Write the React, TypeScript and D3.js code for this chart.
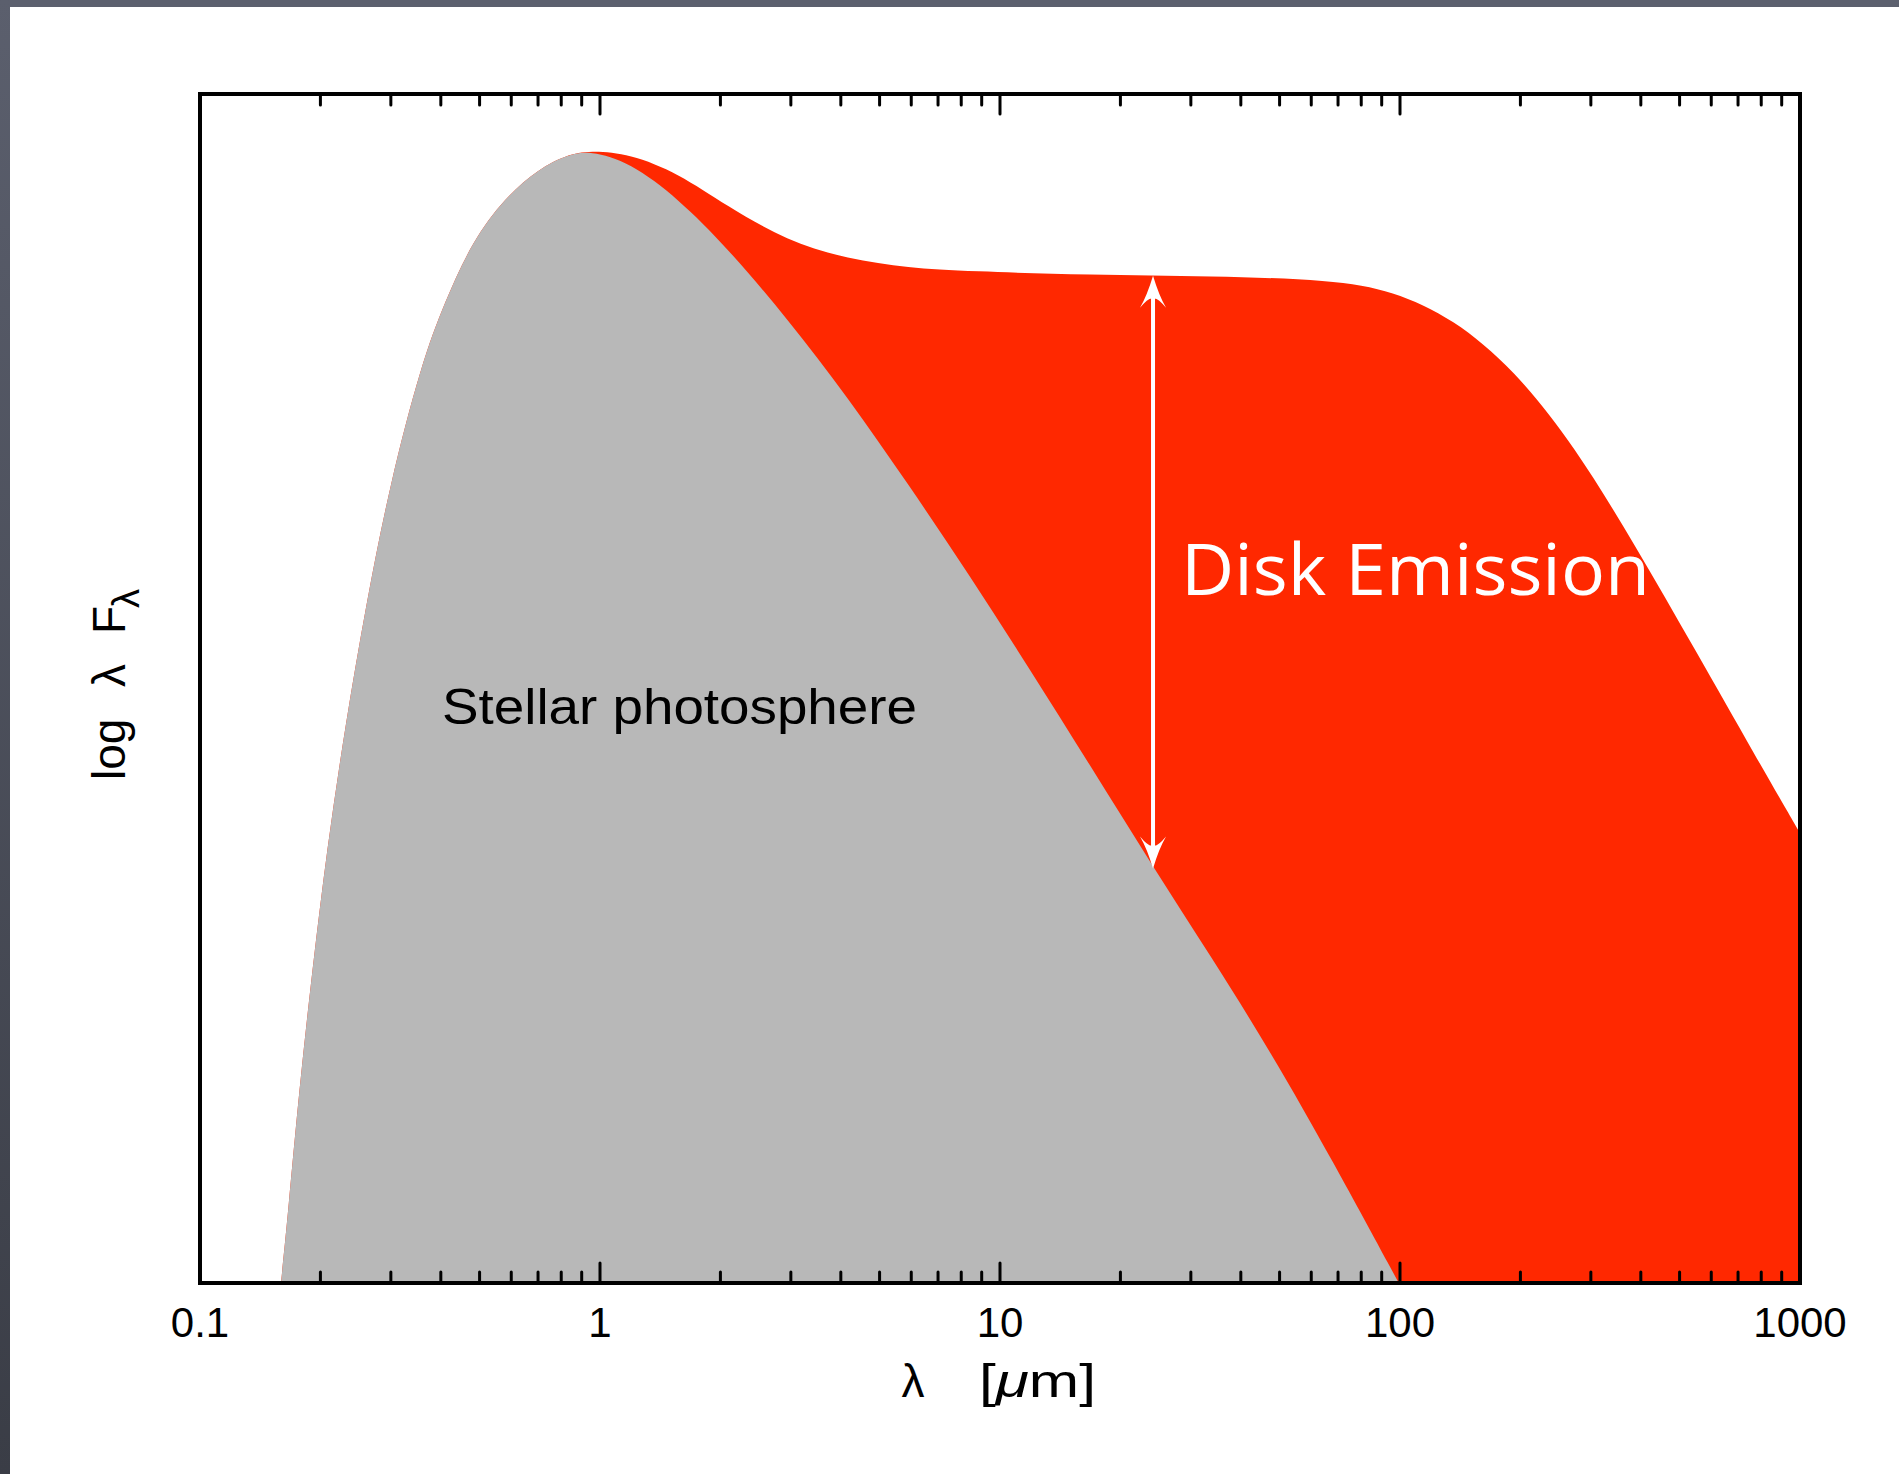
import React from 'react';
import * as d3 from 'd3';

// ---- data ----
const xTickValues = [0.1, 1, 10, 100, 1000];
const xTickLabels = ['0.1', '1', '10', '100', '1000'];

// Stellar photosphere: wavelength [micron] and log(lambda F_lambda) relative to peak
const photLambda = [0.1594, 0.1662, 0.1769, 0.1911, 0.2078, 0.2307, 0.2597, 0.2985, 0.3578, 0.4087, 0.4795, 0.5788, 0.7036, 0.826, 0.943, 1.187, 1.569, 2.073, 2.938, 4.165, 5.9, 8.36, 11.84, 16.79, 24.13, 33.7, 47.8, 67.7, 99.3];
const photLogF = [-5.0, -4.68, -4.15, -3.61, -3.08, -2.54, -2.01, -1.47, -0.94, -0.67, -0.4, -0.207, -0.08, -0.019, 0.0, -0.051, -0.212, -0.426, -0.741, -1.089, -1.474, -1.87, -2.287, -2.714, -3.163, -3.559, -3.987, -4.457, -5.0];

// Star + disk (total) emission
const totalLambda = [0.1594, 0.1662, 0.1769, 0.1911, 0.2078, 0.2307, 0.2597, 0.2985, 0.3578, 0.4087, 0.4795, 0.5788, 0.7036, 0.826, 0.943, 1.187, 1.569, 2.073, 2.938, 4.165, 5.9, 8.36, 16.79, 33.7, 67.7, 95.9, 135.9, 192.7, 272.9, 386.7, 548, 776, 1000];
const totalLogF = [-5.0, -4.68, -4.15, -3.61, -3.08, -2.54, -2.01, -1.47, -0.94, -0.67, -0.4, -0.207, -0.08, -0.019, 0.0, -0.014, -0.1, -0.244, -0.399, -0.479, -0.517, -0.533, -0.549, -0.554, -0.57, -0.618, -0.741, -0.966, -1.303, -1.741, -2.207, -2.677, -3.014];

// Disk-emission arrow
const arrowLambda = 24.13;
const arrowTopLogF = -0.553;
const arrowBottomLogF = -3.17;

const yDomain = [-5.0, 0.25];

export default function App() {
  const W = 1899, H = 1474;
  const left = 200, right = 1800, top = 94, bottom = 1283;
  const x = d3.scaleLog().domain([0.1, 1000]).range([left, right]);
  const y = d3.scaleLinear().domain(yDomain).range([bottom, top]);

  const area = d3
    .area<[number, number]>()
    .x((d) => x(d[0]))
    .y0(bottom)
    .y1((d) => y(d[1]))
    .curve(d3.curveBasis);

  const photData = photLambda.map((l, i) => [l, photLogF[i]] as [number, number]);
  const totalData = totalLambda.map((l, i) => [l, totalLogF[i]] as [number, number]);

  const majors = xTickValues;
  const minors: number[] = [];
  for (let dec = 0.1; dec < 1000; dec *= 10) {
    for (let k = 2; k <= 9; k++) minors.push(+(dec * k).toPrecision(3));
  }

  const ax = x(arrowLambda);
  const ayTop = y(arrowTopLogF);
  const ayBot = y(arrowBottomLogF);
  const headLen = 32, headHalf = 13, notch = 23;
  const topHead = `M${ax},${ayTop} Q${ax + 6},${ayTop + 20} ${ax + headHalf},${ayTop + headLen} Q${ax + 4},${ayTop + notch - 2} ${ax},${ayTop + notch} Q${ax - 4},${ayTop + notch - 2} ${ax - headHalf},${ayTop + headLen} Q${ax - 6},${ayTop + 20} ${ax},${ayTop} Z`;
  const botHead = `M${ax},${ayBot} Q${ax + 6},${ayBot - 20} ${ax + headHalf},${ayBot - headLen} Q${ax + 4},${ayBot - notch + 2} ${ax},${ayBot - notch} Q${ax - 4},${ayBot - notch + 2} ${ax - headHalf},${ayBot - headLen} Q${ax - 6},${ayBot - 20} ${ax},${ayBot} Z`;

  const sans = "'Liberation Sans', Arial, Helvetica, sans-serif";

  return (
    <svg width={W} height={H} style={{ position: 'absolute', left: 0, top: 0 }} xmlns="http://www.w3.org/2000/svg">
      <defs>
        <clipPath id="plotClip">
          <rect x={left} y={top} width={right - left} height={bottom - top} />
        </clipPath>
        <linearGradient id="leftBand" x1="0" y1="0" x2="0" y2="1">
          <stop offset="0" stopColor="#5b5f6d" />
          <stop offset="1" stopColor="#3a3d46" />
        </linearGradient>
      </defs>
      <rect x={0} y={0} width={W} height={H} fill="#ffffff" />
      <rect x={0} y={0} width={W} height={7} fill="#5c606e" />
      <rect x={0} y={0} width={10} height={H} fill="url(#leftBand)" />

      <g clipPath="url(#plotClip)">
        <path d={area(totalData) || ''} fill="#ff2800" />
        <path d={area(photData) || ''} fill="#b8b8b8" />
      </g>

      {/* arrow */}
      <line x1={ax} x2={ax} y1={ayTop + 12} y2={ayBot - 12} stroke="#ffffff" strokeWidth={4} />
      <path d={topHead} fill="#ffffff" />
      <path d={botHead} fill="#ffffff" />

      {/* ticks */}
      <g stroke="#000" strokeWidth={3} strokeLinecap="round">
        {majors.map((v) => (
          <g key={'M' + v}>
            <line x1={x(v)} x2={x(v)} y1={bottom} y2={bottom - 20} />
            <line x1={x(v)} x2={x(v)} y1={top} y2={top + 20} />
          </g>
        ))}
        {minors.map((v) => (
          <g key={'m' + v}>
            <line x1={x(v)} x2={x(v)} y1={bottom} y2={bottom - 11} />
            <line x1={x(v)} x2={x(v)} y1={top} y2={top + 11} />
          </g>
        ))}
      </g>
      <rect x={left} y={top} width={right - left} height={bottom - top} fill="none" stroke="#000" strokeWidth={4} />

      {/* tick labels */}
      {xTickValues.map((v, i) => (
        <text key={'t' + v} x={x(v)} y={1337} textAnchor="middle" fontFamily={sans} fontSize={42} fill="#000">
          {xTickLabels[i]}
        </text>
      ))}

      {/* x-axis title */}
      <text x={913} y={1397} textAnchor="middle" fontFamily={sans} fontSize={46} fill="#000">λ</text>
      <text x={979} y={1397} fontFamily={sans} fontSize={46} fill="#000" textLength={117} lengthAdjust="spacingAndGlyphs">
        [<tspan fontStyle="italic">μ</tspan>m]
      </text>

      {/* y-axis title */}
      <g transform="translate(125,780) rotate(-90)">
        <text x={0} y={0} fontFamily={sans} fontSize={46} fill="#000">
          <tspan x={0}>log</tspan>
          <tspan x={93}>λ</tspan>
          <tspan x={146}>F</tspan>
          <tspan x={172} dy={14} fontSize={38}>λ</tspan>
        </text>
      </g>

      {/* annotations */}
      <text x={442} y={724} fontFamily={sans} fontSize={50} fill="#000" textLength={475} lengthAdjust="spacingAndGlyphs">
        Stellar  photosphere
      </text>
      <text x={1181} y={595} fontFamily="'Comic Sans MS', 'Open Sans', sans-serif" fontWeight={500} fontSize={72} fill="#ffffff" textLength={469} lengthAdjust="spacingAndGlyphs">
        Disk Emission
      </text>
    </svg>
  );
}
